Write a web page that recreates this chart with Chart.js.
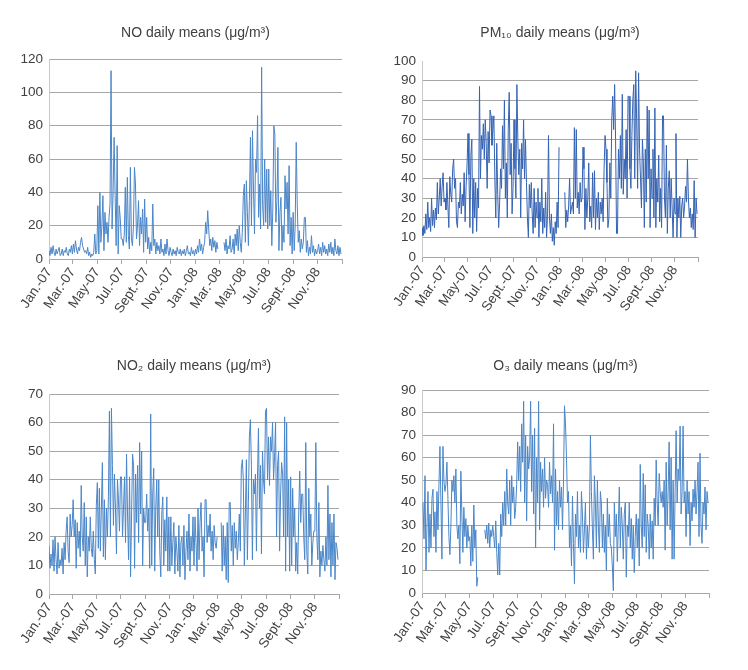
<!DOCTYPE html>
<html>
<head>
<meta charset="utf-8">
<script src="https://cdn.jsdelivr.net/npm/chart.js@4.4.1/dist/chart.umd.min.js"></script>
<style>
  body { margin: 0; background: #fff; width: 748px; height: 670px; position: relative; overflow: hidden; }
  .panel { position: absolute; }
</style>
</head>
<body>
<div class="panel" style="left:3px;top:0px;width:347px;height:331px"><canvas id="noChart"></canvas></div>
<div class="panel" style="left:376px;top:0px;width:330px;height:329px"><canvas id="pmChart"></canvas></div>
<div class="panel" style="left:3px;top:340px;width:344px;height:326px"><canvas id="no2Chart"></canvas></div>
<div class="panel" style="left:376px;top:340px;width:341px;height:325px"><canvas id="o3Chart"></canvas></div>
<script>
const textColor = '#404040';
const gridColor = '#a6a6a6';
const fontFamily = '"Liberation Sans", Arial, sans-serif';

// days since 1 Jan 2007 where the month ticks sit
const monthTickDays = [0, 59, 120, 181, 243, 304, 365, 425, 486, 547, 609, 670, 731];
const monthTickLabels = ['Jan.-07', 'Mar.-07', 'May-07', 'Jul.-07', 'Sept.-07', 'Nov.-07',
  'Jan.-08', 'Mar.-08', 'May-08', 'Jul.-08', 'Sept.-08', 'Nov.-08', ''];

// readings, 12 per month, Jan 2007 .. Dec 2008 (null = no data)
const noValues = [
  5,2,7,3,8,4,2,6,3,5,7,2,
  3,6,2,5,4,7,3,2,6,4,8,3,
  9,4,11,6,3,7,5,10,13,8,6,4,
  5,3,7,2,4,1,3,2,4,15,3,5,
  32,3,40,10,20,38,5,28,15,22,10,25,
  33,113,18,40,73,38,8,68,3,32,25,12,
  12,8,15,43,10,49,14,6,55,12,8,20,
  55,45,12,20,35,8,25,15,30,4,36,10,
  25,6,13,3,10,5,33,8,12,3,10,5,
  8,3,12,4,6,2,9,3,12,5,2,7,
  4,2,6,3,5,2,7,4,3,6,2,5,
  3,6,2,5,8,3,4,2,7,3,5,2,
  6,3,8,4,12,5,9,3,7,10,22,15,
  29,18,8,12,5,13,7,11,4,10,6,null,
  null,null,null,null,10,5,12,3,8,6,14,4,
  6,12,3,15,8,18,5,20,10,4,16,38,
  45,10,47,28,8,35,73,20,77,42,15,60,
  52,86,25,45,18,115,32,20,60,22,54,18,
  54,20,41,8,30,80,75,22,35,67,5,28,
  37,5,20,10,50,30,46,15,56,8,25,3,
  28,5,20,70,33,10,17,4,12,6,10,25,
  25,4,11,2,7,3,14,4,8,2,6,3,
  5,9,3,7,2,10,4,8,3,6,2,9,
  4,10,3,7,2,12,5,3,8,2,7,3
];

const pm10Values = [
  15,11,16,12,22,14,28,15,20,13,30,16,
  24,15,25,19,38,22,30,40,26,36,43,28,
  30,24,38,26,15,41,32,28,45,50,35,40,
  18,15,28,25,38,22,32,26,43,18,36,47,
  63,42,15,52,60,12,40,20,38,13,35,25,
  87,40,62,55,68,50,70,58,35,64,48,75,
  72,57,65,72,40,20,58,32,15,28,45,35,
  67,45,80,30,48,20,65,84,42,58,22,35,
  70,45,30,88,60,42,55,20,58,45,70,40,
  60,38,20,10,37,25,38,22,12,35,15,28,
  20,35,10,28,18,40,12,25,15,33,10,22,
  62,20,12,22,8,15,6,18,12,28,15,56,
  null,null,null,null,null,33,15,24,18,26,40,22,
  25,28,22,66,30,65,25,33,22,38,28,30,
  56,45,14,35,20,30,48,18,26,15,43,20,
  44,14,30,20,33,14,28,22,30,18,45,62,
  55,38,15,20,48,30,70,82,65,88,60,12,
  12,55,40,62,35,83,32,50,40,65,30,82,
  82,45,35,62,80,88,40,95,70,35,94,55,
  40,25,60,48,15,55,28,77,40,75,15,45,
  30,55,20,76,15,40,28,52,18,35,15,72,
  72,30,20,57,12,35,44,20,40,25,10,30,
  22,63,10,30,20,31,10,26,30,20,26,36,
  28,50,30,20,25,15,22,14,39,10,30,22
];

const no2Values = [
  17,9,14,10,19,8,20,12,7,18,9,12,
  10,16,7,18,12,22,27,15,11,28,20,24,
  33,20,26,9,25,16,22,13,38,20,15,32,
  10,27,6,20,15,27,16,13,22,12,7,31,
  39,16,37,15,30,46,13,33,12,30,20,34,
  64,20,65,45,24,42,30,14,40,33,22,41,
  41,20,30,41,18,49,28,12,41,6,28,49,
  45,9,42,25,45,18,53,28,50,10,30,25,
  25,35,22,30,9,63,10,35,44,8,30,40,
  20,40,15,6,28,34,10,26,15,34,8,27,
  8,27,10,18,25,7,20,15,8,24,6,18,
  20,10,24,5,15,22,12,28,8,20,15,27,
  10,27,18,8,30,12,25,32,15,20,6,33,
  33,18,24,20,28,15,22,12,24,18,16,20,
  null,null,null,25,8,24,10,20,5,25,4,32,
  32,15,24,10,25,16,22,12,18,28,15,44,
  47,40,10,28,47,12,32,55,61,45,12,40,
  35,42,15,40,58,30,45,14,50,40,35,64,
  65,40,55,38,55,50,60,40,48,60,20,45,
  50,15,35,46,42,20,62,8,60,20,40,8,
  41,10,37,20,30,8,18,7,28,43,25,35,
  35,20,12,53,15,7,37,20,28,10,18,22,
  22,53,20,12,32,6,15,10,17,12,8,20,
  10,38,12,28,6,25,10,28,5,18,16,12
];

const o3Values = [
  null,40,24,52,10,30,45,18,35,20,42,46,
  25,36,18,45,28,48,65,40,15,65,50,45,
  48,58,42,25,17,30,50,45,52,40,55,30,
  24,30,13,54,35,18,38,25,33,20,30,23,
  25,12,30,14,39,20,28,3,7,null,null,null,
  null,null,null,28,24,30,22,31,20,28,25,30,
  25,20,32,18,8,22,8,35,25,40,30,45,
  30,55,40,35,50,30,52,40,47,33,38,48,
  67,50,65,45,75,58,85,40,70,32,65,55,
  60,85,45,70,35,73,20,60,40,85,28,58,
  45,55,38,60,42,50,48,38,58,44,52,40,
  75,19,55,30,45,28,50,38,47,28,50,83,
  75,60,40,45,20,30,12,43,22,4,35,25,
  45,20,30,18,45,35,18,28,40,15,30,20,
  30,70,45,28,15,52,40,20,50,30,18,45,
  40,20,35,18,30,10,42,25,35,22,20,12,
  1,40,25,35,14,30,47,20,38,30,15,35,
  40,7,30,25,40,20,33,15,30,9,25,35,
  20,33,12,57,30,20,53,25,48,18,35,30,
  15,35,20,32,15,42,30,59,40,30,53,45,
  40,45,38,50,19,58,30,45,67,28,60,15,
  50,15,45,72,40,55,50,74,35,45,74,40,
  45,25,50,35,45,21,40,32,46,38,50,35,
  45,58,25,62,30,22,40,35,47,28,45,40
];

const totalDays = 731;

function toPoints(values) {
  const step = totalDays / values.length;
  return values.map((v, i) => ({ x: i * step, y: v }));
}

function makeChart(id, cfg) {
  const font = { family: fontFamily, size: 13.5 };
  return new Chart(document.getElementById(id), {
    type: 'line',
    data: {
      datasets: [{
        data: toPoints(cfg.values),
        borderColor: cfg.color,
        borderWidth: 1,
        pointRadius: 0,
        tension: 0,
        spanGaps: false
      }]
    },
    options: {
      responsive: true,
      maintainAspectRatio: false,
      animation: false,
      layout: { padding: { left: 0, right: 8, top: 0, bottom: 0 } },
      plugins: {
        legend: { display: false },
        tooltip: { enabled: false },
        title: {
          display: true,
          text: cfg.title,
          fullSize: false,
          color: textColor,
          font: { family: fontFamily, size: 14, weight: 'normal', lineHeight: 1.2 },
          padding: { top: cfg.titleTop, bottom: cfg.titleBottom }
        }
      },
      scales: {
        x: {
          type: 'linear',
          min: 0,
          max: totalDays,
          afterBuildTicks: s => { s.ticks = monthTickDays.map(v => ({ value: v })); },
          afterFit: s => { s.height = 72; s.paddingLeft = 0; s.paddingRight = 0; },
          ticks: {
            autoSkip: false,
            minRotation: 56,
            maxRotation: 56,
            padding: 1,
            color: textColor,
            font: font,
            callback: (v, i) => monthTickLabels[i]
          },
          grid: { drawOnChartArea: false, drawTicks: true, tickLength: 5, color: gridColor },
          border: { color: gridColor }
        },
        y: {
          min: 0,
          max: cfg.yMax,
          afterFit: s => { s.width = 46; },
          ticks: { stepSize: cfg.yStep, padding: 6, color: textColor, font: font },
          grid: {
            drawTicks: false,
            color: c => (cfg.hideTopGrid && c.tick && c.tick.value === cfg.yMax) ? 'rgba(0,0,0,0)' : gridColor
          },
          border: { color: '#c8c8c8' }
        }
      }
    }
  });
}

// NO
makeChart('noChart', {
  values: noValues, color: '#4a86c8', title: 'NO daily means (\u03bcg/m\u00b3)',
  yMax: 120, yStep: 20, titleTop: 24.6, titleBottom: 17.6
});

// PM10
makeChart('pmChart', {
  values: pm10Values, color: '#3563b3', title: 'PM\u2081\u2080 daily means (\u03bcg/m\u00b3)',
  yMax: 100, yStep: 10, titleTop: 25.1, titleBottom: 19.1, hideTopGrid: true
});

// NO2
makeChart('no2Chart', {
  values: no2Values, color: '#4a86c8', title: 'NO\u2082 daily means (\u03bcg/m\u00b3)',
  yMax: 70, yStep: 10, titleTop: 17.6, titleBottom: 19.6
});

// O3
makeChart('o3Chart', {
  values: o3Values, color: '#4a86c8', title: 'O\u2083 daily means (\u03bcg/m\u00b3)',
  yMax: 90, yStep: 10, titleTop: 17.6, titleBottom: 15.6
});
</script>
</body>
</html>
